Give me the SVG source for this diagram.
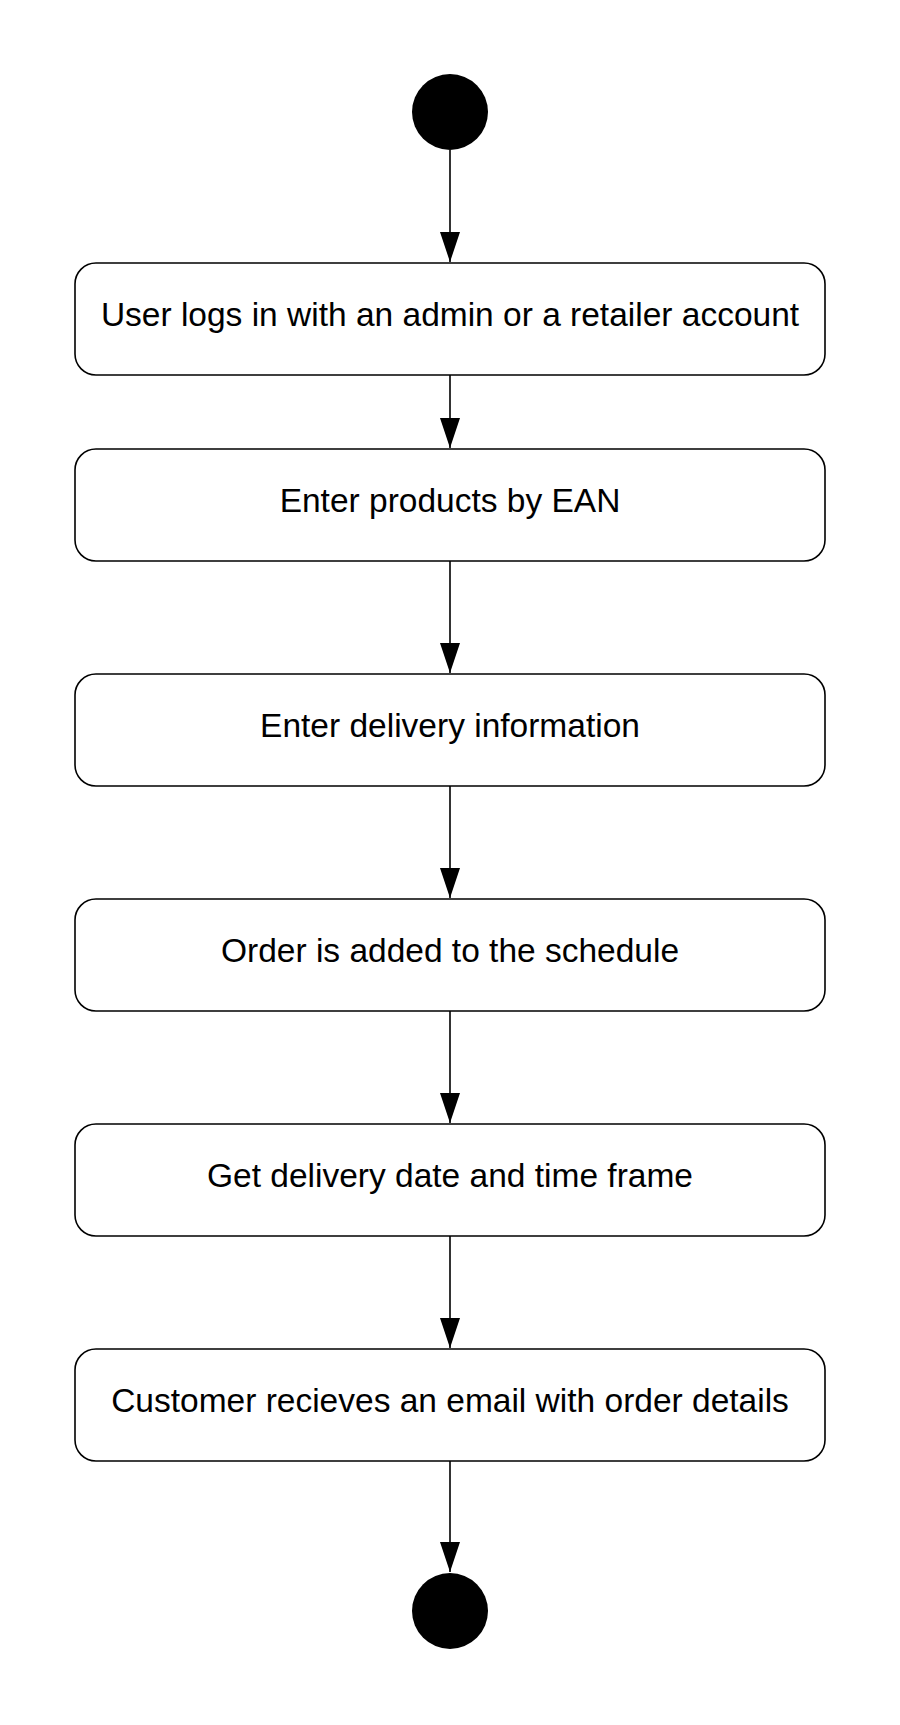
<svg xmlns="http://www.w3.org/2000/svg" width="900" height="1725" viewBox="0 0 900 1725">
<defs>
<marker id="arr" markerWidth="30" markerHeight="20" refX="30" refY="10" orient="auto" markerUnits="userSpaceOnUse" viewBox="0 0 30 20">
<path d="M0,0 L30,10 L0,20 Z" fill="#000"/>
</marker>
<style>
.box{fill:#fff;stroke:#000;stroke-width:1.6}
.lbl{font-family:"Liberation Sans",Arial,sans-serif;font-size:33.5px;fill:#000;text-anchor:middle;dominant-baseline:central}
.edge{stroke:#000;stroke-width:1.6;fill:none}
.dot{fill:#000}
</style>
</defs>
<rect width="900" height="1725" fill="#fff"/>
<g id="edges">
<line class="edge" x1="450" y1="150" x2="450" y2="262" marker-end="url(#arr)"/>
<line class="edge" x1="450" y1="375" x2="450" y2="448" marker-end="url(#arr)"/>
<line class="edge" x1="450" y1="561" x2="450" y2="673" marker-end="url(#arr)"/>
<line class="edge" x1="450" y1="786" x2="450" y2="898" marker-end="url(#arr)"/>
<line class="edge" x1="450" y1="1011" x2="450" y2="1123" marker-end="url(#arr)"/>
<line class="edge" x1="450" y1="1236" x2="450" y2="1348" marker-end="url(#arr)"/>
<line class="edge" x1="450" y1="1461" x2="450" y2="1572" marker-end="url(#arr)"/>
</g>
<g id="start"><circle class="dot" cx="450" cy="112" r="38"/></g>
<g id="n1"><rect class="box" x="75" y="263" width="750" height="112" rx="21"/><text class="lbl" x="450" y="314">User logs in with an admin or a retailer account</text></g>
<g id="n2"><rect class="box" x="75" y="449" width="750" height="112" rx="21"/><text class="lbl" x="450" y="500">Enter products by EAN</text></g>
<g id="n3"><rect class="box" x="75" y="674" width="750" height="112" rx="21"/><text class="lbl" x="450" y="725">Enter delivery information</text></g>
<g id="n4"><rect class="box" x="75" y="899" width="750" height="112" rx="21"/><text class="lbl" x="450" y="950">Order is added to the schedule</text></g>
<g id="n5"><rect class="box" x="75" y="1124" width="750" height="112" rx="21"/><text class="lbl" x="450" y="1175">Get delivery date and time frame</text></g>
<g id="n6"><rect class="box" x="75" y="1349" width="750" height="112" rx="21"/><text class="lbl" x="450" y="1400">Customer recieves an email with order details</text></g>
<g id="end"><circle class="dot" cx="450" cy="1611" r="38"/></g>
</svg>
